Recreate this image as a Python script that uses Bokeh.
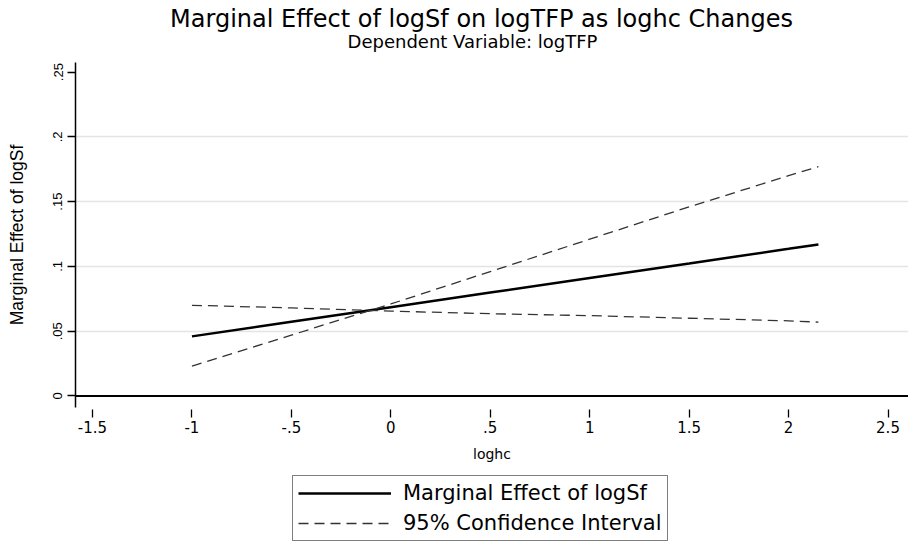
from bokeh.plotting import figure
from bokeh.models import Range1d, FixedTicker, Span, Label, Legend, LegendItem
from bokeh.layouts import column
from bokeh.embed import file_html
from bokeh.resources import INLINE

# Data
loghc = [-1.0, -0.5, 0.0, 0.5, 1.0, 1.5, 2.0, 2.15]
marginal_effect = [0.046, 0.0573, 0.0685, 0.0798, 0.0911, 0.1023, 0.1136, 0.117]
ci_upper = [0.023, 0.047, 0.071, 0.096, 0.121, 0.146, 0.170, 0.177]
ci_lower = [0.070, 0.068, 0.0655, 0.0635, 0.062, 0.060, 0.058, 0.057]

x_ticks = [-1.5, -1.0, -0.5, 0.0, 0.5, 1.0, 1.5, 2.0, 2.5]
x_tick_labels = ["-1.5", "-1", "-.5", "0", ".5", "1", "1.5", "2", "2.5"]
y_ticks = [0.0, 0.05, 0.10, 0.15, 0.20, 0.25]
y_tick_labels = ["0", ".05", ".1", ".15", ".2", ".25"]

title_text = "Marginal Effect of logSf on logTFP as loghc Changes"
subtitle_text = "Dependent Variable: logTFP"
legend_labels = ["Marginal Effect of logSf", "95% Confidence Interval"]
FONT_H = "DejaVu Sans"
FONT_V = "Liberation Sans"
NAN = float("nan")

# ---- header (title + subtitle), laid out in pixel units ----
hd = figure(width=908, height=62, output_backend="svg", toolbar_location=None,
            x_range=Range1d(75, 908), y_range=Range1d(62, 0),
            min_border_left=75, min_border_right=0, min_border_top=0,
            min_border_bottom=0, outline_line_color=None,
            background_fill_color="white", border_fill_color="white")
hd.axis.visible = False
hd.grid.visible = False
hd.add_layout(Label(x=481, y=18, text=title_text, text_align="center",
                    text_baseline="middle", text_font=FONT_H,
                    text_font_size="24px", text_color="black"))
hd.add_layout(Label(x=472, y=41, text=subtitle_text, text_align="center",
                    text_baseline="middle", text_font=FONT_H,
                    text_font_size="18px", text_color="black"))

# ---- main plot ----
p = figure(width=908, height=410, output_backend="svg", toolbar_location=None,
           x_range=Range1d(-1.5855, 2.603), y_range=Range1d(-0.0089, 0.2574),
           min_border_left=75, min_border_right=0, min_border_top=0,
           min_border_bottom=65, background_fill_color="white",
           border_fill_color="white", outline_line_color=None)
p.title = None

p.xaxis.ticker = FixedTicker(ticks=x_ticks)
p.xaxis.major_label_overrides = {t: l for t, l in zip(x_ticks, x_tick_labels)}
p.yaxis.ticker = FixedTicker(ticks=y_ticks)
p.yaxis.major_label_overrides = {t: l for t, l in zip(y_ticks, y_tick_labels)}
p.xaxis.axis_label = "loghc"
p.yaxis.axis_label = "Marginal Effect of logSf"
for ax in (p.xaxis[0], p.yaxis[0]):
    ax.axis_label_text_font_style = "normal"
    ax.major_tick_line_color = "black"
    ax.minor_tick_line_color = None
    ax.major_label_text_color = "black"
    ax.axis_label_text_color = "black"
p.xaxis.axis_label_text_font = FONT_H
p.xaxis.axis_label_text_font_size = "14px"
p.xaxis.major_label_text_font = FONT_H
p.xaxis.major_label_text_font_size = "15px"
p.yaxis.axis_label_text_font = FONT_V
p.yaxis.axis_label_text_font_size = "17.5px"
p.yaxis.major_label_text_font = FONT_V
p.yaxis.major_label_text_font_size = "13px"

p.xaxis.axis_line_color = None
p.xaxis.major_tick_in = -2
p.xaxis.major_tick_out = 10
p.xaxis.major_tick_line_width = 1.3
p.xaxis.major_label_standoff = 3
p.xaxis.axis_label_standoff = 10
p.yaxis.axis_line_color = "black"
p.yaxis.axis_line_width = 1.5
p.yaxis.major_tick_in = 0
p.yaxis.major_tick_out = 8
p.yaxis.major_tick_line_width = 1.3
p.yaxis.major_label_orientation = "vertical"
p.yaxis.major_label_standoff = 5
p.yaxis.axis_label_standoff = 24

p.xgrid.grid_line_color = None
p.ygrid.ticker = FixedTicker(ticks=[0.05, 0.10, 0.15, 0.20])
p.ygrid.grid_line_color = "#e4e4e4"
p.ygrid.grid_line_width = 1.5

p.add_layout(Span(location=0, dimension="width", line_color="black", line_width=2))

MAIN_STYLE = dict(line_color="black", line_width=2.5)
CI_STYLE = dict(line_color="#333333", line_width=1.3, line_dash="10 6")

p.line(loghc, marginal_effect, **MAIN_STYLE)
p.line(loghc, ci_upper, **CI_STYLE)
p.line(loghc, ci_lower, **CI_STYLE)

# ---- legend panel below (separate figure so it is not clipped by the plot frame) ----
pl = figure(width=908, height=71, output_backend="svg", toolbar_location=None,
            x_range=Range1d(0, 1), y_range=Range1d(0, 1),
            min_border_left=75, min_border_right=0, min_border_top=0,
            min_border_bottom=0, outline_line_color=None,
            background_fill_color="white", border_fill_color="white")
pl.axis.visible = False
pl.grid.visible = False
s_main = pl.line([NAN, NAN], [NAN, NAN], **MAIN_STYLE)
s_ci = pl.line([NAN, NAN], [NAN, NAN], **CI_STYLE)
legend = Legend(items=[LegendItem(label=legend_labels[0], renderers=[s_main]),
                       LegendItem(label=legend_labels[1], renderers=[s_ci])],
                location=(217, 2), orientation="vertical",
                label_text_font=FONT_H, label_text_font_size="21px",
                label_text_color="black",
                border_line_color="black", border_line_width=1.5,
                glyph_width=93, glyph_height=24, label_height=24,
                label_standoff=12, spacing=6, padding=5, margin=0)
pl.add_layout(legend, "center")

layout = column(hd, p, pl, spacing=0)
open("out.html", "w").write(file_html(layout, INLINE))
